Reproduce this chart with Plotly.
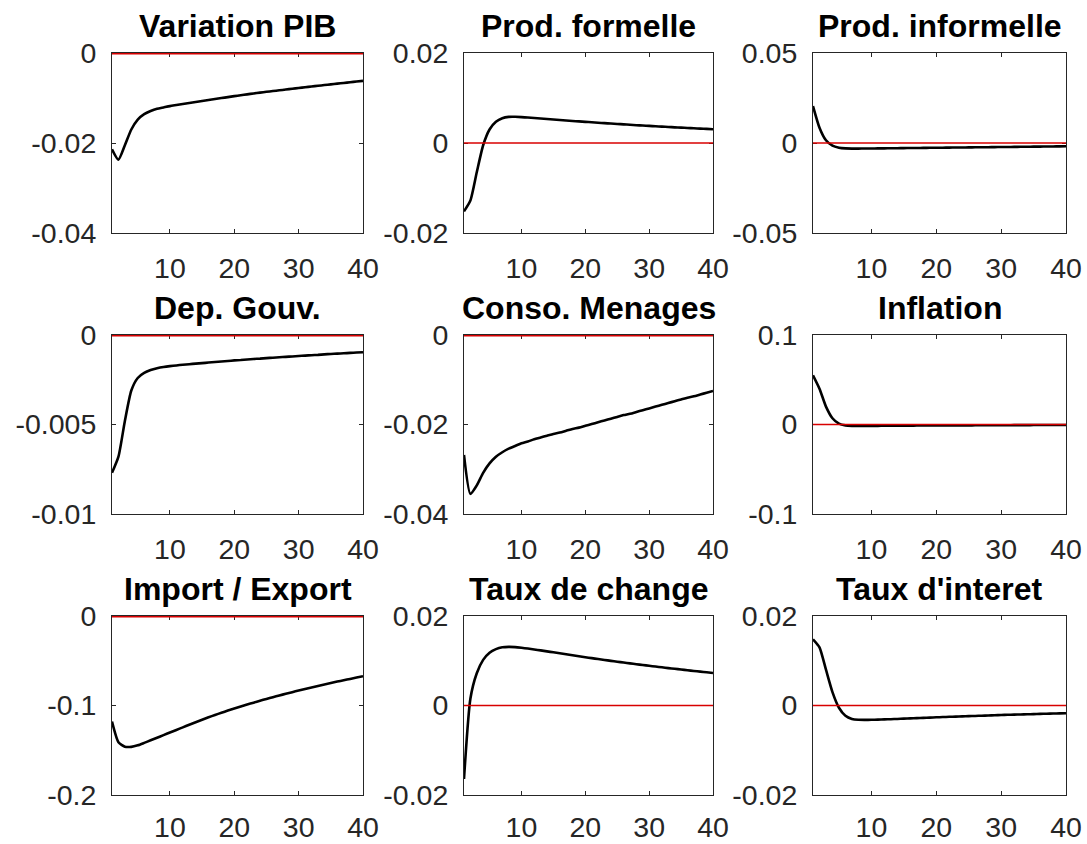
import plotly.graph_objects as go

periods = list(range(1, 41))

titles = ["Variation PIB", "Prod. formelle", "Prod. informelle",
          "Dep. Gouv.", "Conso. Menages", "Inflation",
          "Import / Export", "Taux de change", "Taux d'interet"]

variation_pib = [-0.0214, -0.0237, -0.0205, -0.0170, -0.0148, -0.0136, -0.0129, -0.0124, -0.0121, -0.0118,
                 -0.01157, -0.01134, -0.01112, -0.0109, -0.01068, -0.01046, -0.01024, -0.01002, -0.0098, -0.00959,
                 -0.00939, -0.00919, -0.00899, -0.00881, -0.00863, -0.00846, -0.00829, -0.00812, -0.00795, -0.00778,
                 -0.00761, -0.00745, -0.00729, -0.00713, -0.00697, -0.00681, -0.00665, -0.0065, -0.00635, -0.0062]

prod_formelle = [-0.0152, -0.0128, -0.0065, -0.0005, 0.0030, 0.0047, 0.0055, 0.0058, 0.00582, 0.00575,
                 0.00565, 0.00555, 0.00544, 0.00533, 0.00522, 0.00511, 0.005, 0.0049, 0.0048, 0.0047,
                 0.0046, 0.0045, 0.00441, 0.00432, 0.00423, 0.00414, 0.00405, 0.00396, 0.00388, 0.0038,
                 0.00372, 0.00364, 0.00356, 0.00348, 0.00341, 0.00334, 0.00327, 0.0032, 0.00313, 0.00306]

prod_informelle = [0.0205, 0.0085, 0.0015, -0.0015, -0.0026, -0.0030, -0.0031, -0.0031, -0.00308, -0.00304,
                   -0.003, -0.00296, -0.00292, -0.00288, -0.00284, -0.0028, -0.00276, -0.00272, -0.00268, -0.00264,
                   -0.0026, -0.00256, -0.00252, -0.00248, -0.00244, -0.0024, -0.00236, -0.00232, -0.00228, -0.00224,
                   -0.0022, -0.00216, -0.00212, -0.00208, -0.00204, -0.002, -0.00196, -0.00192, -0.00188, -0.00184]

dep_gouv = [-0.0077, -0.0068, -0.0048, -0.0031, -0.0024, -0.00212, -0.00196, -0.00186, -0.00179, -0.00174,
            -0.0017, -0.00166, -0.00163, -0.0016, -0.00157, -0.00154, -0.00151, -0.00148, -0.00145, -0.00142,
            -0.0014, -0.00137, -0.00134, -0.00132, -0.00129, -0.00127, -0.00124, -0.00122, -0.0012, -0.00117,
            -0.00115, -0.00113, -0.00111, -0.00108, -0.00106, -0.00104, -0.00102, -0.001, -0.00098, -0.00096]

conso_menages = [-0.0268, -0.0355, -0.0336, -0.0308, -0.0287, -0.0272, -0.0262, -0.0254, -0.0248, -0.0242,
                 -0.0238, -0.0233, -0.0229, -0.0225, -0.0221, -0.0218, -0.0214, -0.0210, -0.0207, -0.0203,
                 -0.0199, -0.0195, -0.0191, -0.0187, -0.0183, -0.0179, -0.0176, -0.0172, -0.0168, -0.0164,
                 -0.0160, -0.0156, -0.0152, -0.0148, -0.0144, -0.0140, -0.0137, -0.0133, -0.0129, -0.0125]

inflation = [0.055, 0.040, 0.020, 0.007, 0.001, -0.0010, -0.0015, -0.0016, -0.0016, -0.0015,
             -0.0015, -0.0014, -0.0014, -0.0013, -0.0013, -0.0013, -0.0012, -0.0012, -0.0012, -0.0011,
             -0.0011, -0.0011, -0.0010, -0.0010, -0.0010, -0.0009, -0.0009, -0.0009, -0.0008, -0.0008,
             -0.0008, -0.0007, -0.0007, -0.0007, -0.0006, -0.0006, -0.0006, -0.0005, -0.0005, -0.0005]

import_export = [-0.118, -0.141, -0.146, -0.1462, -0.1445, -0.1418, -0.1389, -0.1360, -0.1331, -0.1302,
                 -0.1273, -0.1244, -0.1215, -0.1187, -0.1159, -0.1132, -0.1106, -0.1081, -0.1057, -0.1034,
                 -0.1011, -0.0989, -0.0968, -0.0947, -0.0927, -0.0907, -0.0888, -0.0869, -0.0851, -0.0833,
                 -0.0815, -0.0798, -0.0781, -0.0765, -0.0749, -0.0733, -0.0718, -0.0703, -0.0688, -0.0673]

taux_change = [-0.0164, 0.0015, 0.0072, 0.0102, 0.0118, 0.0126, 0.0130, 0.0131, 0.01305, 0.0129,
               0.01272, 0.01252, 0.01231, 0.0121, 0.01188, 0.01166, 0.01144, 0.01122, 0.011, 0.01079,
               0.01058, 0.01038, 0.01018, 0.00998, 0.00979, 0.0096, 0.00941, 0.00923, 0.00905, 0.00887,
               0.0087, 0.00853, 0.00836, 0.0082, 0.00804, 0.00788, 0.00772, 0.00757, 0.00742, 0.00727]

taux_interet = [0.0148, 0.0130, 0.0080, 0.0030, -0.0005, -0.0023, -0.0030, -0.0032, -0.00322, -0.0032,
                -0.00316, -0.00311, -0.00306, -0.003, -0.00294, -0.00288, -0.00282, -0.00276, -0.0027, -0.00264,
                -0.00258, -0.00253, -0.00248, -0.00243, -0.00238, -0.00233, -0.00228, -0.00223, -0.00218, -0.00213,
                -0.00208, -0.00204, -0.002, -0.00196, -0.00192, -0.00188, -0.00184, -0.0018, -0.00176, -0.00172]

series = [variation_pib, prod_formelle, prod_informelle,
          dep_gouv, conso_menages, inflation,
          import_export, taux_change, taux_interet]

y_tickvals = [[-0.04, -0.02, 0], [-0.02, 0, 0.02], [-0.05, 0, 0.05],
              [-0.01, -0.005, 0], [-0.04, -0.02, 0], [-0.1, 0, 0.1],
              [-0.2, -0.1, 0], [-0.02, 0, 0.02], [-0.02, 0, 0.02]]
y_ticktext = [["-0.04", "-0.02", "0"], ["-0.02", "0", "0.02"], ["-0.05", "0", "0.05"],
              ["-0.01", "-0.005", "0"], ["-0.04", "-0.02", "0"], ["-0.1", "0", "0.1"],
              ["-0.2", "-0.1", "0"], ["-0.02", "0", "0.02"], ["-0.02", "0", "0.02"]]

x_tickvals = [10, 20, 30, 40]
x_ticktext = ["10", "20", "30", "40"]
zero_x = [1, 40]
zero_y = [0, 0]

W, H = 1087, 844
col_px = [(112, 363), (464, 713), (813, 1066)]
row_px = [(53, 233), (335, 514), (616, 795)]

FONT = "Liberation Sans, Arial, Helvetica, sans-serif"
AXC = "#262626"
TICK_SIZE = 28.5

fig = go.Figure()
layout = dict(width=W, height=H, margin=dict(l=0, r=0, t=0, b=0, autoexpand=False),
              paper_bgcolor="white", plot_bgcolor="white", showlegend=False,
              font=dict(family=FONT, size=TICK_SIZE, color=AXC))
annotations = []

for i in range(9):
    r, c = divmod(i, 3)
    n = i + 1
    xs = "" if n == 1 else str(n)
    xd = [col_px[c][0] / W, col_px[c][1] / W]
    yd = [1 - row_px[r][1] / H, 1 - row_px[r][0] / H]
    lo, hi = y_tickvals[i][0], y_tickvals[i][-1]
    # zero line sitting on the box edge is half clipped: widen it so it still reads as red
    zw = 3 if hi == 0 else 1.6
    fig.add_trace(go.Scatter(x=periods, y=series[i], mode="lines",
                             line=dict(color="black", width=2.6, shape="spline", smoothing=0.6),
                             xaxis="x" + xs, yaxis="y" + xs, hoverinfo="skip"))
    fig.add_trace(go.Scatter(x=zero_x, y=zero_y, mode="lines",
                             line=dict(color="#d80000", width=zw),
                             xaxis="x" + xs, yaxis="y" + xs, hoverinfo="skip"))
    layout["xaxis" + xs] = dict(domain=xd, range=[1, 40], anchor="y" + xs, automargin=False,
                                tickmode="array", tickvals=x_tickvals, ticktext=x_ticktext,
                                ticks="inside", ticklen=4, tickwidth=1, tickcolor=AXC,
                                showline=True, linecolor=AXC, linewidth=1, mirror="ticks",
                                showgrid=False, zeroline=False, layer="below traces",
                                ticklabelstandoff=10 if r < 2 else 7,
                                tickfont=dict(family=FONT, size=TICK_SIZE, color=AXC))
    layout["yaxis" + xs] = dict(domain=yd, range=[lo, hi], anchor="x" + xs, automargin=False,
                                tickmode="array", tickvals=y_tickvals[i], ticktext=y_ticktext[i],
                                ticks="inside", ticklen=4, tickwidth=1, tickcolor=AXC,
                                showline=True, linecolor=AXC, linewidth=1, mirror="ticks",
                                showgrid=False, zeroline=False, layer="below traces",
                                ticklabelstandoff=9,
                                tickfont=dict(family=FONT, size=TICK_SIZE, color=AXC))
    annotations.append(dict(text="<b>" + titles[i] + "</b>", xref="paper", yref="paper",
                            x=(xd[0] + xd[1]) / 2, y=yd[1], xanchor="center", yanchor="bottom",
                            yshift=7, showarrow=False,
                            font=dict(family=FONT, size=32, color="black")))

layout["annotations"] = annotations
fig.update_layout(**layout)
fig.write_html("out.html", config={"displayModeBar": False, "staticPlot": True},
               post_script="document.body.style.margin='0';document.body.style.overflow='hidden';")
